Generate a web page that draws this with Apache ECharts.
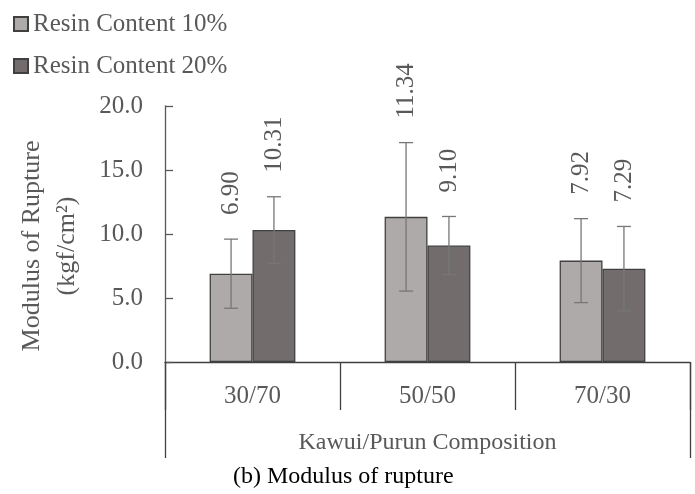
<!DOCTYPE html>
<html>
<head>
<meta charset="utf-8">
<script src="https://cdn.jsdelivr.net/npm/echarts@6/dist/echarts.min.js"></script>
<style>html,body{margin:0;padding:0;background:#fff}#c{width:695px;height:494px}</style>
</head>
<body>
<div id="c"></div>
<script>
const categories = ['30/70', '50/50', '70/30'];
const seriesNames = ['Resin Content 10%', 'Resin Content 20%'];
const resin10 = [6.90, 11.34, 7.92];
const resin20 = [10.31, 9.10, 7.29];
const resin10Err = [2.7, 5.8, 3.28];
const resin20Err = [2.6, 2.27, 3.3];
const yTicks = [0, 5, 10, 15, 20];
const xTitle = 'Kawui/Purun Composition';

const FONT = 'Liberation Serif';
const TXT = '#595959';
const BAR_RATIO = 0.245;

function errSeries(means, sds, side) {
  return {
    type: 'custom',
    xAxisIndex: 0,
    z: 10,
    encode: { x: 0, y: 1 },
    data: means.map((m, i) => [i, m, sds[i]]),
    renderItem: function (params, api) {
      const i = api.value(0), m = api.value(1), sd = api.value(2);
      const catW = api.size([1, 0])[0];
      const off = side * catW * BAR_RATIO / 2;
      const top = api.coord([i, m + sd]);
      const bot = api.coord([i, m - sd]);
      const x = top[0] + off;
      const cap = 7;
      const ls = { stroke: '#777777', lineWidth: 1.3 };
      return {
        type: 'group',
        children: [
          { type: 'line', shape: { x1: x, y1: top[1], x2: x, y2: bot[1] }, style: ls },
          { type: 'line', shape: { x1: x - cap, y1: top[1], x2: x + cap, y2: top[1] }, style: ls },
          { type: 'line', shape: { x1: x - cap, y1: bot[1], x2: x + cap, y2: bot[1] }, style: ls },
          { type: 'text', x: x, y: top[1] - 24, rotation: Math.PI / 2,
            style: { text: m.toFixed(2), x: 0, y: 0, align: 'left', verticalAlign: 'middle',
                     fill: TXT, fontSize: 25, fontFamily: FONT } }
        ]
      };
    }
  };
}

const chart = echarts.init(document.getElementById('c'), null, { renderer: 'canvas' });
chart.setOption({
  animation: false,
  backgroundColor: '#fff',
  textStyle: { fontFamily: FONT },
  title: {
    text: '(b) Modulus of rupture',
    left: 233, top: 465,
    padding: 0,
    textStyle: { fontFamily: FONT, fontSize: 24, fontWeight: 'normal', color: '#000' }
  },
  legend: {
    data: seriesNames,
    orient: 'vertical',
    left: 13, top: 10,
    padding: 0,
    itemWidth: 14, itemHeight: 14,
    itemGap: 14,
    icon: 'rect',
    textStyle: { fontFamily: FONT, fontSize: 25, color: TXT, lineHeight: 28 }
  },
  grid: { left: 165, right: 5, top: 106, bottom: 132, containLabel: false, outerBoundsMode: 'none' },
  xAxis: [
    {
      type: 'category',
      position: 'bottom',
      data: categories,
      axisLine: { show: true, lineStyle: { color: '#404040', width: 1.3 } },
      axisTick: { show: true, interval: 0, length: 48, lineStyle: { color: '#404040', width: 1.3 } },
      axisLabel: { fontFamily: FONT, fontSize: 25, color: TXT, margin: 22 }
    },
    {
      type: 'category',
      position: 'bottom',
      data: [xTitle],
      axisLine: { show: false },
      axisTick: { show: true, interval: 0, length: 96, lineStyle: { color: '#404040', width: 1.3 } },
      axisLabel: { show: true, fontFamily: FONT, fontSize: 24, color: TXT, margin: 69 }
    }
  ],
  yAxis: {
    type: 'value',
    min: yTicks[0], max: yTicks[yTicks.length - 1], interval: 5,
    axisLine: { show: true, lineStyle: { color: '#595959', width: 1.3 } },
    axisTick: { show: true, inside: true, length: 8, lineStyle: { color: '#595959', width: 1.3 } },
    splitLine: { show: false },
    axisLabel: { fontFamily: FONT, fontSize: 25, color: TXT, margin: 22, formatter: v => v.toFixed(1) },
    name: 'Modulus of Rupture\n(kgf/cm²)',
    nameLocation: 'middle',
    nameRotate: 90,
    nameGap: 80,
    nameTextStyle: { fontFamily: FONT, fontSize: 26, color: TXT, lineHeight: 35, padding: [0, 24, 0, 0] }
  },
  series: [
    {
      name: seriesNames[0], type: 'bar', xAxisIndex: 0,
      data: resin10, barWidth: (BAR_RATIO * 100) + '%', barGap: '0%',
      itemStyle: { color: '#AEAAA9', borderColor: '#404040', borderWidth: 1.3 }
    },
    {
      name: seriesNames[1], type: 'bar', xAxisIndex: 0,
      data: resin20, barWidth: (BAR_RATIO * 100) + '%', barGap: '0%',
      itemStyle: { color: '#726D6C', borderColor: '#404040', borderWidth: 1.3 }
    },
    errSeries(resin10, resin10Err, -1),
    errSeries(resin20, resin20Err, 1)
  ]
});
</script>
</body>
</html>
